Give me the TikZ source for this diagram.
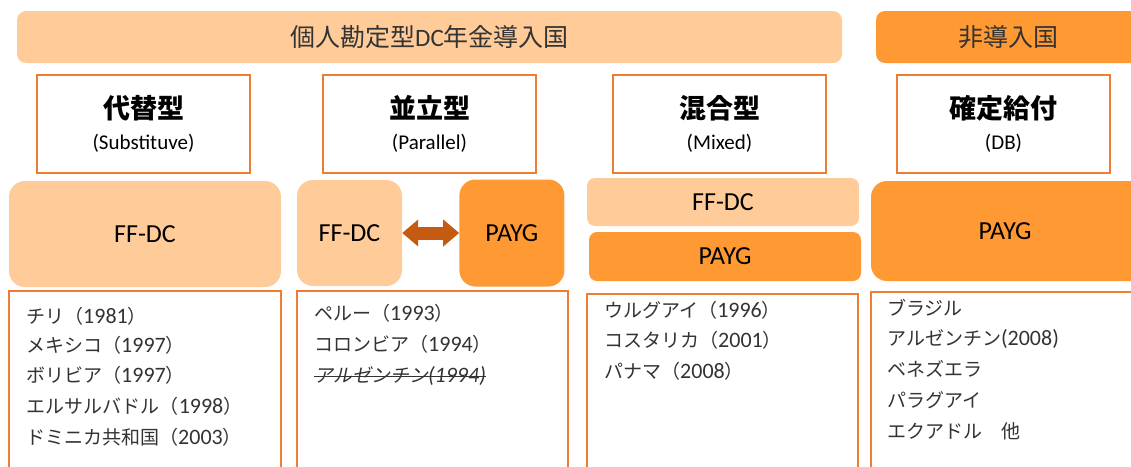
\documentclass[tikz,border=0pt]{standalone}
\usepackage{fontspec}
\setmainfont{Carlito}[Numbers=Lining]
\newfontfamily\jpfont{Noto Sans CJK JP}
\newfontfamily\jpslant{Noto Sans CJK JP}[FakeSlant=0.2]
\newcommand\jp[1]{{\jpfont #1}}
\newcommand\yr[1]{{\fontsize{22}{23}\selectfont #1}}
\usetikzlibrary{positioning,arrows.meta}
\definecolor{peach}{HTML}{FFCC99}
\definecolor{tangerine}{HTML}{FF9933}
\definecolor{rim}{HTML}{ED7D31}
\definecolor{rust}{HTML}{C55A11}
\definecolor{ink}{HTML}{333333}
\begin{document}
\begin{tikzpicture}[x=1pt, y=-1pt,
  band/.style = {rounded corners=9pt, inner sep=0pt, text=ink, font=\fontsize{25}{30}\selectfont},
  head/.style = {draw=rim, line width=1.4pt, fill=white, minimum width=213pt, minimum height=98pt, align=center, font=\fontsize{27}{36}\selectfont},
  scheme/.style = {inner sep=0pt, font=\fontsize{26}{30}\selectfont},
  listbox/.style = {draw=rim, line width=1.4pt, fill=white},
  item/.style = {anchor=west, inner sep=0pt, text=ink, font=\fontsize{19}{23}\selectfont}]
\useasboundingbox (0,0) rectangle (1131,466);
% top bands
\node[band, fill=peach, minimum width=825pt, minimum height=52pt] (dcband) at (429.5,37) {\jp{個人勘定型}DC\jp{年金導入国}};
\node[band, fill=tangerine, minimum width=264pt, minimum height=52pt] (nondc) at (1008,37) {\jp{非導入国}};
% scheme types
\node[head] (subst) at (143.5,124) {\bfseries\jp{代替型}\\[-5pt]{\fontsize{21}{24}\selectfont(Substituve)}};
\node[head] (paral) at (429.5,124) {\bfseries\jp{並立型}\\[-5pt]{\fontsize{21}{24}\selectfont(Parallel)}};
\node[head] (mixed) at (719.5,124) {\bfseries\jp{混合型}\\[-5pt]{\fontsize{21}{24}\selectfont(Mixed)}};
\node[head] (dbtype) at (1003.5,124) {\bfseries\jp{確定給付}\\[-5pt]{\fontsize{21}{24}\selectfont(DB)}};
% pillars
\node[scheme, fill=peach, rounded corners=16pt, minimum width=272pt, minimum height=106pt] (ffdc1) at (145,234) {FF-DC};
\node[scheme, fill=peach, rounded corners=16pt, minimum width=105pt, minimum height=106pt] (ffdc2) at (349.5,233) {FF-DC};
\node[scheme, fill=tangerine, rounded corners=16pt, minimum width=105pt, minimum height=107pt] (payg2) [right=57pt of ffdc2] {PAYG};
\draw[rust, line width=13pt, {Triangle[width=26pt,length=16pt]}-{Triangle[width=26pt,length=16pt]}] (ffdc2) -- (payg2);
\node[scheme, fill=peach, rounded corners=8pt, minimum width=272pt, minimum height=48pt] (ffdc3) at (723,202) {FF-DC};
\node[scheme, fill=tangerine, rounded corners=8pt, minimum width=272pt, minimum height=49pt] (payg3) at (725,256.5) {PAYG};
\node[scheme, fill=tangerine, rounded corners=16pt, minimum width=280pt, minimum height=100pt] (payg4) at (1011,231) {};
\node[scheme] (payg4t) at (1005,231) {PAYG};
% country lists
\draw[listbox] (9,291) rectangle (281,475);
\draw[listbox] (297,291) rectangle (568,475);
\draw[listbox] (587,294) rectangle (858,475);
\draw[listbox] (871,292) rectangle (1145,475);
\node[item] (chile) at (26,316) {\jp{チリ（}\yr{1981}\jp{）}};
\node[item] (mexico) at (26,345.5) {\jp{メキシコ（}\yr{1997}\jp{）}};
\node[item] (bolivia) at (26,375.5) {\jp{ボリビア（}\yr{1997}\jp{）}};
\node[item] (elsal) at (26,406) {\jp{エルサルバドル（}\yr{1998}\jp{）}};
\node[item] (domrep) at (26,437) {\jp{ドミニカ共和国（}\yr{2003}\jp{）}};
\node[item] (peru) at (314,313.5) {\jp{ペルー（}\yr{1993}\jp{）}};
\node[item] (colombia) at (314,344) {\jp{コロンビア（}\yr{1994}\jp{）}};
\node[item] (argold) at (314,376) {{\jpslant アルゼンチン}\itshape\yr{(1994)}};
\draw[ink, line width=0.8pt] (argold.west) -- (argold.east);
\node[item] (uruguay) at (604,310.5) {\jp{ウルグアイ（}\yr{1996}\jp{）}};
\node[item] (costarica) at (604,340.5) {\jp{コスタリカ（}\yr{2001}\jp{）}};
\node[item] (panama) at (604,371.5) {\jp{パナマ（}\yr{2008}\jp{）}};
\node[item] (brazil) at (887,308) {\jp{ブラジル}};
\node[item] (argentina) at (887,339) {\jp{アルゼンチン}\yr{(2008)}};
\node[item] (venezuela) at (887,369) {\jp{ベネズエラ}};
\node[item] (paraguay) at (887,400) {\jp{パラグアイ}};
\node[item] (ecuador) at (887,431) {\jp{エクアドル　他}};
\end{tikzpicture}
\end{document}
